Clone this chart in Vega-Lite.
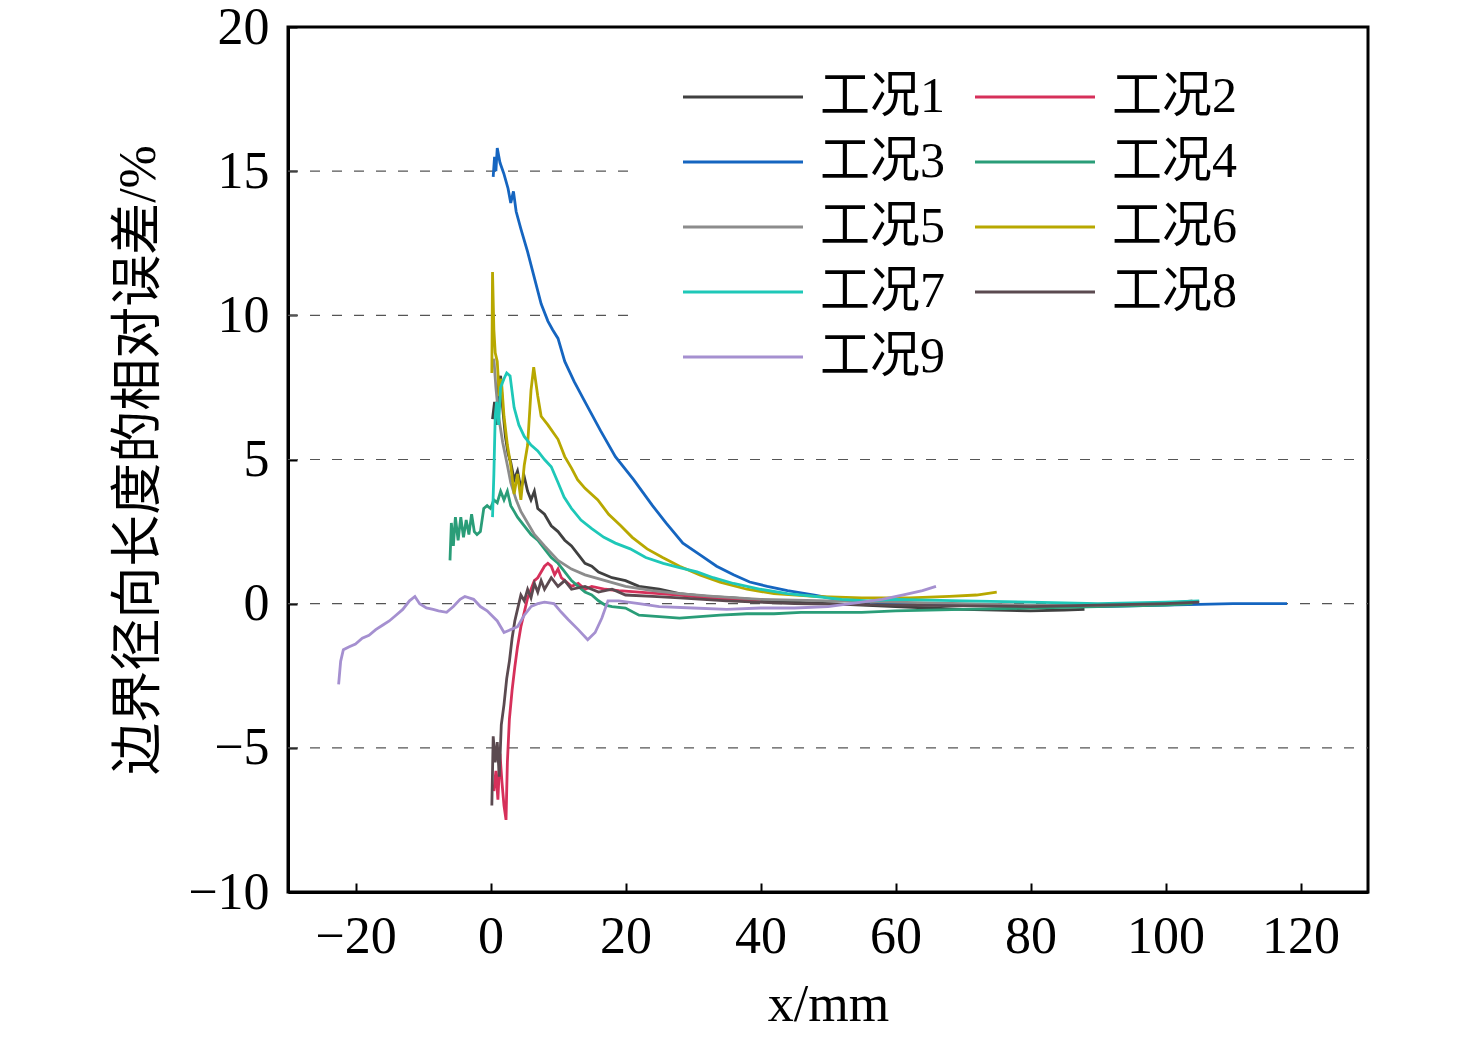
{
  "$schema": "https://vega.github.io/schema/vega-lite/v6.json",
  "autosize": "none",
  "padding": {"left": 288, "top": 27, "right": 108, "bottom": 147},
  "width": 1080,
  "height": 865,
  "background": "white",
  "data": {
    "values": [
      {"s":"工况1","x":0.3,"y":6.4},{"s":"工况1","x":0.6,"y":7.0},{"s":"工况1","x":0.9,"y":6.2},{"s":"工况1","x":1.2,"y":7.6},{"s":"工况1","x":1.5,"y":7.9},{"s":"工况1","x":1.8,"y":6.8},{"s":"工况1","x":2.2,"y":5.8},{"s":"工况1","x":2.6,"y":5.2},{"s":"工况1","x":3,"y":4.9},{"s":"工况1","x":3.5,"y":4.3},{"s":"工况1","x":4,"y":4.6},{"s":"工况1","x":4.5,"y":4.0},{"s":"工况1","x":5,"y":4.4},{"s":"工况1","x":5.5,"y":3.9},{"s":"工况1","x":6,"y":3.6},{"s":"工况1","x":6.5,"y":3.9},{"s":"工况1","x":7,"y":3.3},{"s":"工况1","x":8,"y":3.1},{"s":"工况1","x":9,"y":2.7},{"s":"工况1","x":10,"y":2.5},{"s":"工况1","x":11,"y":2.2},{"s":"工况1","x":12,"y":2.0},{"s":"工况1","x":13,"y":1.7},{"s":"工况1","x":14,"y":1.4},{"s":"工况1","x":15,"y":1.3},{"s":"工况1","x":16,"y":1.1},{"s":"工况1","x":18,"y":0.9},{"s":"工况1","x":20,"y":0.8},{"s":"工况1","x":22,"y":0.6},{"s":"工况1","x":25,"y":0.5},{"s":"工况1","x":28,"y":0.35},{"s":"工况1","x":32,"y":0.25},{"s":"工况1","x":36,"y":0.2},{"s":"工况1","x":40,"y":0.12},{"s":"工况1","x":45,"y":0.05},{"s":"工况1","x":50,"y":0.0},{"s":"工况1","x":55,"y":-0.05},{"s":"工况1","x":60,"y":-0.1},{"s":"工况1","x":65,"y":-0.15},{"s":"工况1","x":70,"y":-0.2},{"s":"工况1","x":75,"y":-0.22},{"s":"工况1","x":80,"y":-0.25},{"s":"工况1","x":85,"y":-0.22},{"s":"工况1","x":88,"y":-0.2},

      {"s":"工况2","x":0.5,"y":-6.5},{"s":"工况2","x":0.8,"y":-5.8},{"s":"工况2","x":1.1,"y":-6.8},{"s":"工况2","x":1.4,"y":-5.2},{"s":"工况2","x":1.7,"y":-6.2},{"s":"工况2","x":2.0,"y":-7.0},{"s":"工况2","x":2.3,"y":-7.5},{"s":"工况2","x":2.5,"y":-5.5},{"s":"工况2","x":2.8,"y":-4.0},{"s":"工况2","x":3.2,"y":-3.0},{"s":"工况2","x":3.6,"y":-2.2},{"s":"工况2","x":4,"y":-1.5},{"s":"工况2","x":4.5,"y":-0.8},{"s":"工况2","x":5,"y":-0.3},{"s":"工况2","x":5.5,"y":0.2},{"s":"工况2","x":6,"y":0.5},{"s":"工况2","x":6.5,"y":0.8},{"s":"工况2","x":7,"y":0.9},{"s":"工况2","x":7.5,"y":1.1},{"s":"工况2","x":8,"y":1.3},{"s":"工况2","x":8.5,"y":1.4},{"s":"工况2","x":9,"y":1.3},{"s":"工况2","x":9.5,"y":1.0},{"s":"工况2","x":10,"y":1.2},{"s":"工况2","x":10.5,"y":0.9},{"s":"工况2","x":11,"y":0.8},{"s":"工况2","x":12,"y":0.6},{"s":"工况2","x":13,"y":0.7},{"s":"工况2","x":14,"y":0.5},{"s":"工况2","x":15,"y":0.6},{"s":"工况2","x":17,"y":0.5},{"s":"工况2","x":19,"y":0.45},{"s":"工况2","x":22,"y":0.4},{"s":"工况2","x":25,"y":0.35},{"s":"工况2","x":28,"y":0.3},{"s":"工况2","x":32,"y":0.2},{"s":"工况2","x":36,"y":0.15},{"s":"工况2","x":40,"y":0.1},

      {"s":"工况3","x":0.4,"y":14.8},{"s":"工况3","x":0.6,"y":15.5},{"s":"工况3","x":0.8,"y":15.0},{"s":"工况3","x":1.0,"y":15.8},{"s":"工况3","x":1.4,"y":15.3},{"s":"工况3","x":2.0,"y":14.9},{"s":"工况3","x":2.6,"y":14.4},{"s":"工况3","x":3.0,"y":13.9},{"s":"工况3","x":3.4,"y":14.3},{"s":"工况3","x":3.8,"y":13.6},{"s":"工况3","x":4.5,"y":13.0},{"s":"工况3","x":5.5,"y":12.2},{"s":"工况3","x":6.5,"y":11.3},{"s":"工况3","x":7.5,"y":10.4},{"s":"工况3","x":8.5,"y":9.8},{"s":"工况3","x":9.2,"y":9.5},{"s":"工况3","x":10,"y":9.2},{"s":"工况3","x":11,"y":8.4},{"s":"工况3","x":12.4,"y":7.7},{"s":"工况3","x":14,"y":7.0},{"s":"工况3","x":16.3,"y":6.0},{"s":"工况3","x":18.5,"y":5.1},{"s":"工况3","x":21.2,"y":4.3},{"s":"工况3","x":24,"y":3.4},{"s":"工况3","x":26,"y":2.8},{"s":"工况3","x":28.5,"y":2.1},{"s":"工况3","x":31,"y":1.7},{"s":"工况3","x":33.5,"y":1.3},{"s":"工况3","x":36,"y":1.0},{"s":"工况3","x":38.4,"y":0.75},{"s":"工况3","x":41,"y":0.6},{"s":"工况3","x":44,"y":0.45},{"s":"工况3","x":48,"y":0.3},{"s":"工况3","x":52,"y":0.12},{"s":"工况3","x":56,"y":0.05},{"s":"工况3","x":60,"y":0.0},{"s":"工况3","x":70,"y":-0.05},{"s":"工况3","x":80,"y":-0.1},{"s":"工况3","x":90,"y":-0.1},{"s":"工况3","x":100,"y":-0.05},{"s":"工况3","x":110,"y":0.0},{"s":"工况3","x":118,"y":0.0},

      {"s":"工况4","x":-6.0,"y":1.5},{"s":"工况4","x":-5.8,"y":2.8},{"s":"工况4","x":-5.5,"y":2.0},{"s":"工况4","x":-5.2,"y":3.0},{"s":"工况4","x":-4.8,"y":2.2},{"s":"工况4","x":-4.4,"y":3.0},{"s":"工况4","x":-4.0,"y":2.3},{"s":"工况4","x":-3.6,"y":2.9},{"s":"工况4","x":-3.2,"y":2.4},{"s":"工况4","x":-2.8,"y":3.1},{"s":"工况4","x":-2.4,"y":2.5},{"s":"工况4","x":-2,"y":2.4},{"s":"工况4","x":-1.5,"y":2.5},{"s":"工况4","x":-1,"y":3.3},{"s":"工况4","x":-0.5,"y":3.4},{"s":"工况4","x":0,"y":3.3},{"s":"工况4","x":0.5,"y":3.6},{"s":"工况4","x":1,"y":3.5},{"s":"工况4","x":1.5,"y":3.9},{"s":"工况4","x":2,"y":3.6},{"s":"工况4","x":2.5,"y":3.9},{"s":"工况4","x":3,"y":3.4},{"s":"工况4","x":3.5,"y":3.2},{"s":"工况4","x":4,"y":3.0},{"s":"工况4","x":5,"y":2.7},{"s":"工况4","x":6,"y":2.4},{"s":"工况4","x":7,"y":2.2},{"s":"工况4","x":8,"y":1.9},{"s":"工况4","x":9,"y":1.6},{"s":"工况4","x":10,"y":1.4},{"s":"工况4","x":11,"y":1.1},{"s":"工况4","x":12,"y":0.8},{"s":"工况4","x":13,"y":0.6},{"s":"工况4","x":14,"y":0.4},{"s":"工况4","x":15,"y":0.3},{"s":"工况4","x":16,"y":0.1},{"s":"工况4","x":17,"y":-0.05},{"s":"工况4","x":18,"y":-0.1},{"s":"工况4","x":20,"y":-0.15},{"s":"工况4","x":22,"y":-0.4},{"s":"工况4","x":25,"y":-0.45},{"s":"工况4","x":28,"y":-0.5},{"s":"工况4","x":31,"y":-0.45},{"s":"工况4","x":34,"y":-0.4},{"s":"工况4","x":38,"y":-0.35},{"s":"工况4","x":42,"y":-0.35},{"s":"工况4","x":46,"y":-0.3},{"s":"工况4","x":50,"y":-0.3},{"s":"工况4","x":55,"y":-0.3},{"s":"工况4","x":60,"y":-0.25},{"s":"工况4","x":70,"y":-0.2},{"s":"工况4","x":80,"y":-0.15},{"s":"工况4","x":90,"y":-0.1},{"s":"工况4","x":100,"y":-0.05},{"s":"工况4","x":104,"y":0.0},

      {"s":"工况5","x":0.5,"y":8.5},{"s":"工况5","x":0.8,"y":7.5},{"s":"工况5","x":1.2,"y":6.5},{"s":"工况5","x":1.8,"y":5.6},{"s":"工况5","x":2.5,"y":4.8},{"s":"工况5","x":3,"y":4.2},{"s":"工况5","x":3.8,"y":3.6},{"s":"工况5","x":4.5,"y":3.2},{"s":"工况5","x":5.5,"y":2.8},{"s":"工况5","x":6.5,"y":2.4},{"s":"工况5","x":8,"y":2.0},{"s":"工况5","x":10,"y":1.5},{"s":"工况5","x":12,"y":1.2},{"s":"工况5","x":14,"y":1.0},{"s":"工况5","x":17,"y":0.8},{"s":"工况5","x":20,"y":0.6},{"s":"工况5","x":24,"y":0.45},{"s":"工况5","x":28,"y":0.35},{"s":"工况5","x":33,"y":0.25},{"s":"工况5","x":40,"y":0.15},{"s":"工况5","x":50,"y":0.1},{"s":"工况5","x":60,"y":0.05},{"s":"工况5","x":70,"y":0.0},{"s":"工况5","x":80,"y":-0.05},{"s":"工况5","x":90,"y":-0.05},{"s":"工况5","x":100,"y":0.0},{"s":"工况5","x":104,"y":0.1},

      {"s":"工况6","x":0.2,"y":8.0},{"s":"工况6","x":0.3,"y":11.5},{"s":"工况6","x":0.5,"y":9.5},{"s":"工况6","x":0.7,"y":8.7},{"s":"工况6","x":1.0,"y":8.4},{"s":"工况6","x":1.3,"y":7.2},{"s":"工况6","x":1.6,"y":7.8},{"s":"工况6","x":2,"y":6.5},{"s":"工况6","x":2.5,"y":5.5},{"s":"工况6","x":3,"y":4.8},{"s":"工况6","x":3.5,"y":3.8},{"s":"工况6","x":4,"y":4.5},{"s":"工况6","x":4.5,"y":3.6},{"s":"工况6","x":5,"y":4.8},{"s":"工况6","x":5.5,"y":5.5},{"s":"工况6","x":6,"y":7.4},{"s":"工况6","x":6.4,"y":8.2},{"s":"工况6","x":7,"y":7.2},{"s":"工况6","x":7.5,"y":6.5},{"s":"工况6","x":8.5,"y":6.2},{"s":"工况6","x":10,"y":5.7},{"s":"工况6","x":11,"y":5.1},{"s":"工况6","x":12,"y":4.7},{"s":"工况6","x":12.9,"y":4.3},{"s":"工况6","x":14,"y":4.0},{"s":"工况6","x":15.9,"y":3.6},{"s":"工况6","x":17.5,"y":3.1},{"s":"工况6","x":19.3,"y":2.7},{"s":"工况6","x":21,"y":2.3},{"s":"工况6","x":23.2,"y":1.9},{"s":"工况6","x":25.5,"y":1.6},{"s":"工况6","x":28,"y":1.3},{"s":"工况6","x":31,"y":1.0},{"s":"工况6","x":34,"y":0.75},{"s":"工况6","x":38,"y":0.5},{"s":"工况6","x":42,"y":0.35},{"s":"工况6","x":48,"y":0.25},{"s":"工况6","x":55,"y":0.2},{"s":"工况6","x":62,"y":0.2},{"s":"工况6","x":68,"y":0.25},{"s":"工况6","x":72,"y":0.3},{"s":"工况6","x":75,"y":0.4},

      {"s":"工况7","x":0.3,"y":3.0},{"s":"工况7","x":0.5,"y":4.5},{"s":"工况7","x":0.7,"y":6.5},{"s":"工况7","x":0.9,"y":7.0},{"s":"工况7","x":1.2,"y":6.2},{"s":"工况7","x":1.5,"y":7.5},{"s":"工况7","x":2,"y":7.8},{"s":"工况7","x":2.4,"y":8.0},{"s":"工况7","x":2.9,"y":7.9},{"s":"工况7","x":3.5,"y":6.8},{"s":"工况7","x":4.2,"y":6.2},{"s":"工况7","x":5,"y":5.8},{"s":"工况7","x":6,"y":5.5},{"s":"工况7","x":7,"y":5.3},{"s":"工况7","x":8,"y":5.0},{"s":"工况7","x":9,"y":4.75},{"s":"工况7","x":10,"y":4.2},{"s":"工况7","x":10.9,"y":3.7},{"s":"工况7","x":12,"y":3.3},{"s":"工况7","x":13.4,"y":2.9},{"s":"工况7","x":15,"y":2.6},{"s":"工况7","x":16.8,"y":2.3},{"s":"工况7","x":18.5,"y":2.1},{"s":"工况7","x":20.7,"y":1.9},{"s":"工况7","x":23,"y":1.6},{"s":"工况7","x":25.6,"y":1.4},{"s":"工况7","x":28,"y":1.25},{"s":"工况7","x":30.6,"y":1.1},{"s":"工况7","x":33,"y":0.9},{"s":"工况7","x":36,"y":0.7},{"s":"工况7","x":40,"y":0.5},{"s":"工况7","x":44,"y":0.35},{"s":"工况7","x":48,"y":0.25},{"s":"工况7","x":52,"y":0.15},{"s":"工况7","x":56,"y":0.1},{"s":"工况7","x":60,"y":0.15},{"s":"工况7","x":70,"y":0.1},{"s":"工况7","x":80,"y":0.05},{"s":"工况7","x":90,"y":0.0},{"s":"工况7","x":100,"y":0.05},{"s":"工况7","x":105,"y":0.1},

      {"s":"工况8","x":0.2,"y":-7.0},{"s":"工况8","x":0.4,"y":-4.6},{"s":"工况8","x":0.7,"y":-5.5},{"s":"工况8","x":1.0,"y":-4.8},{"s":"工况8","x":1.3,"y":-6.0},{"s":"工况8","x":1.6,"y":-4.2},{"s":"工况8","x":2.0,"y":-3.5},{"s":"工况8","x":2.4,"y":-2.6},{"s":"工况8","x":2.8,"y":-2.0},{"s":"工况8","x":3.2,"y":-1.2},{"s":"工况8","x":3.6,"y":-0.6},{"s":"工况8","x":4,"y":-0.2},{"s":"工况8","x":4.5,"y":0.3},{"s":"工况8","x":5,"y":0.1},{"s":"工况8","x":5.5,"y":0.5},{"s":"工况8","x":6,"y":0.2},{"s":"工况8","x":6.5,"y":0.7},{"s":"工况8","x":7,"y":0.4},{"s":"工况8","x":7.5,"y":0.8},{"s":"工况8","x":8,"y":0.5},{"s":"工况8","x":9,"y":0.9},{"s":"工况8","x":10,"y":0.6},{"s":"工况8","x":11,"y":0.8},{"s":"工况8","x":12,"y":0.5},{"s":"工况8","x":14,"y":0.6},{"s":"工况8","x":16,"y":0.4},{"s":"工况8","x":18,"y":0.5},{"s":"工况8","x":20,"y":0.3},{"s":"工况8","x":24,"y":0.25},{"s":"工况8","x":28,"y":0.2},{"s":"工况8","x":35,"y":0.1},{"s":"工况8","x":45,"y":0.0},{"s":"工况8","x":60,"y":-0.05},{"s":"工况8","x":80,"y":-0.1},{"s":"工况8","x":100,"y":0.0},{"s":"工况8","x":105,"y":0.05},

      {"s":"工况9","x":-22.5,"y":-2.8},{"s":"工况9","x":-22.2,"y":-2.0},{"s":"工况9","x":-21.8,"y":-1.6},{"s":"工况9","x":-21,"y":-1.5},{"s":"工况9","x":-20,"y":-1.4},{"s":"工况9","x":-19,"y":-1.2},{"s":"工况9","x":-18,"y":-1.1},{"s":"工况9","x":-17,"y":-0.9},{"s":"工况9","x":-16,"y":-0.75},{"s":"工况9","x":-15,"y":-0.6},{"s":"工况9","x":-14,"y":-0.4},{"s":"工况9","x":-13,"y":-0.2},{"s":"工况9","x":-12,"y":0.1},{"s":"工况9","x":-11.2,"y":0.25},{"s":"工况9","x":-10.5,"y":0.0},{"s":"工况9","x":-9.5,"y":-0.15},{"s":"工况9","x":-8.5,"y":-0.2},{"s":"工况9","x":-7.7,"y":-0.25},{"s":"工况9","x":-6.5,"y":-0.3},{"s":"工况9","x":-5.5,"y":-0.1},{"s":"工况9","x":-4.5,"y":0.15},{"s":"工况9","x":-3.8,"y":0.25},{"s":"工况9","x":-2.5,"y":0.15},{"s":"工况9","x":-1.5,"y":-0.1},{"s":"工况9","x":-0.5,"y":-0.25},{"s":"工况9","x":1,"y":-0.6},{"s":"工况9","x":2,"y":-1.0},{"s":"工况9","x":3,"y":-0.9},{"s":"工况9","x":4,"y":-0.8},{"s":"工况9","x":5,"y":-0.4},{"s":"工况9","x":6,"y":-0.1},{"s":"工况9","x":7,"y":0.0},{"s":"工况9","x":8,"y":0.05},{"s":"工况9","x":9.4,"y":0.0},{"s":"工况9","x":10.5,"y":-0.3},{"s":"工况9","x":11.5,"y":-0.55},{"s":"工况9","x":13,"y":-0.9},{"s":"工况9","x":14.4,"y":-1.25},{"s":"工况9","x":15.5,"y":-1.0},{"s":"工况9","x":16.5,"y":-0.5},{"s":"工况9","x":17.4,"y":0.1},{"s":"工况9","x":19,"y":0.1},{"s":"工况9","x":22,"y":0.0},{"s":"工况9","x":25,"y":-0.1},{"s":"工况9","x":30,"y":-0.15},{"s":"工况9","x":35,"y":-0.2},{"s":"工况9","x":40,"y":-0.15},{"s":"工况9","x":45,"y":-0.15},{"s":"工况9","x":50,"y":-0.1},{"s":"工况9","x":55,"y":0.05},{"s":"工况9","x":58,"y":0.15},{"s":"工况9","x":61,"y":0.3},{"s":"工况9","x":64,"y":0.45},{"s":"工况9","x":66,"y":0.6}
    ]
  },
  "encoding": {
    "x": {
      "field": "x", "type": "quantitative",
      "scale": {"domain": [-30, 130], "nice": false, "zero": false},
      "axis": {"values": [-20, 0, 20, 40, 60, 80, 100, 120], "title": "x/mm", "grid": false, "labelPadding": 28, "titlePadding": 17}
    },
    "y": {
      "field": "y", "type": "quantitative",
      "scale": {"domain": [-10, 20], "nice": false, "zero": false},
      "axis": {
        "values": [-10, -5, 0, 5, 10, 15, 20],
        "title": "边界径向长度的相对误差/%",
        "grid": false, "labelPadding": 28, "titlePadding": 22
      }
    }
  },
  "layer": [
    {
      "data": {
        "values": [
          {"x": -30, "xe": 21, "y": 15},
          {"x": -30, "xe": 21, "y": 10},
          {"x": -30, "xe": 130, "y": 5},
          {"x": -30, "xe": 130, "y": 0},
          {"x": -30, "xe": 130, "y": -5}
        ]
      },
      "mark": {"type": "rule", "color": "#555555", "strokeWidth": 1.2, "strokeDash": [10, 12]},
      "encoding": {"x2": {"field": "xe"}}
    },
    {
      "mark": {"type": "line", "strokeWidth": 2.8, "clip": true},
      "encoding": {
        "color": {
          "field": "s", "type": "nominal",
          "scale": {
            "domain": ["工况1","工况3","工况5","工况7","工况9","工况2","工况4","工况6","工况8"],
            "range": ["#404040","#1565c0","#8c8c8c","#1ec8b8","#a590d0","#d6305a","#2a9d78","#b8a800","#5b4a50"]
          },
          "legend": {
            "title": null,
            "orient": "none",
            "legendX": 390,
            "legendY": 45,
            "columns": 2,
            "columnPadding": 24,
            "rowPadding": 15,
            "padding": 0,
            "symbolType": "M-1,0H5",
            "symbolSize": 1600,
            "symbolStrokeWidth": 3,
            "labelFontSize": 50,
            "labelFont": "Liberation Serif, Noto Sans CJK SC",
            "labelColor": "black",
            "labelOffset": 92,
            "labelLimit": 400
          }
        }
      }
    }
  ],
  "config": {
    "view": {"stroke": "black", "strokeWidth": 3},
    "axis": {
      "domainColor": "black", "domainWidth": 3,
      "tickColor": "black", "tickWidth": 2, "tickSize": -9,
      "labelFont": "Liberation Serif", "labelFontSize": 52, "labelColor": "black",
      "titleFont": "Liberation Serif, Noto Sans CJK SC", "titleFontSize": 52, "titleFontWeight": "normal", "titleColor": "black"
    }
  }
}
